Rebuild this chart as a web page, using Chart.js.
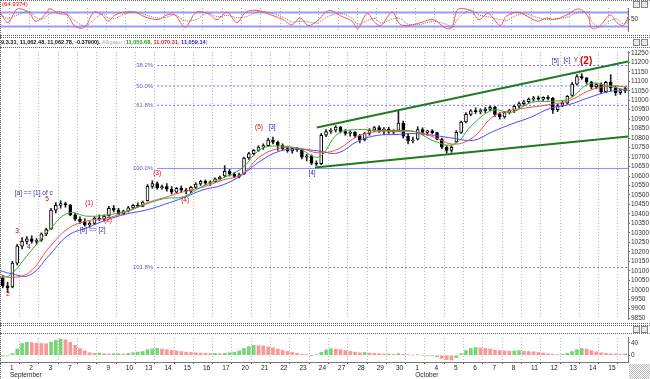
<!DOCTYPE html>
<html><head><meta charset="utf-8">
<script src="https://cdn.jsdelivr.net/npm/chart.js@4.4.1/dist/chart.umd.min.js"></script>
<style>
html,body{margin:0;padding:0;background:#fff;}
body{position:relative;width:650px;height:379px;overflow:hidden;font-family:'Liberation Sans',Arial,sans-serif;}
canvas{position:absolute;left:0;}
.hl{position:absolute;left:0;width:650px;height:0;border-top:1px dotted #666;}
.vl{position:absolute;width:0;border-left:1px dotted #666;}
.t{position:absolute;white-space:nowrap;font-size:5.6px;line-height:7px;}
.ic{position:absolute;width:5px;height:5px;border:1px solid #888;background:#e8e8e8;}
</style></head><body>
<canvas id="cStoch" style="top:0px;width:650px;height:36px" width="650" height="36"></canvas>
<canvas id="cMain" style="top:47px;width:650px;height:277px" width="650" height="277"></canvas>
<canvas id="cHist" style="top:333px;width:650px;height:46px" width="650" height="46"></canvas>
<div class="hl" style="top:0"></div>
<div class="hl" style="top:35px"></div>
<div class="hl" style="top:37px"></div>
<div class="hl" style="top:47px"></div>
<div class="hl" style="top:323px"></div>
<div class="hl" style="top:325px"></div>
<div class="hl" style="top:333px"></div>
<div class="vl" style="left:0;top:0;height:379px"></div>
<div class="t" style="left:2px;top:1px;color:#e00000;font-size:6px">(64.9374)</div>
<div class="t" style="left:1px;top:39px;color:#111;font-weight:bold">9.3.31, 11,062.48, 11,062.78, -0.37900). <span style="color:#aaa;font-weight:normal">Alligator (</span><span style="color:#20a020">11,050.68, </span><span style="color:#e02020">11,070.31, </span><span style="color:#2020e0">11,059.14</span><span style="color:#aaa">)</span></div>
<div class="ic" style="left:633px;top:1px"></div><div class="ic" style="left:641px;top:1px"></div>
<div class="ic" style="left:633px;top:39px"></div><div class="ic" style="left:641px;top:39px"></div>
<div class="ic" style="left:633px;top:326px"></div><div class="ic" style="left:641px;top:326px"></div>
<div style="position:absolute;left:629px;top:364px;width:21px;height:15px;background:repeating-conic-gradient(#bbb 0 25%,#fff 0 50%) 0 0/2px 2px"></div>
<script>
const FONT = "'Liberation Sans', Arial, sans-serif";
Chart.defaults.font.family = FONT;
Chart.defaults.font.size = 6.5;

// ---------- categories / ticks ----------
const dayLabels = ['1','2','3','7','8','9','10','13','14','15','16','17','20','21','22','23','24','27','28','29','30','1','4','5','6','7','8','11','12','13','14','15'];
const monthNames = ['September','October'];
const monthStartDays = [0, 21];
const barsPerDay = 4;
const firstBar = -2;
const X_MIN = -2.07, X_MAX = 128.08;
const priceTicks = [11250,11200,11150,11100,11050,11000,10950,10900,10850,10800,10750,10700,10650,10600,10550,10500,10450,10400,10350,10300,10250,10200,10150,10100,10050,10000,9950,9900,9850];

// ---------- price bars (4 per day) ----------
const opens = [10060,10020,
10015,10140,10230,10255, 10268,10255,10262,10295, 10320,10420,10445,10455, 10447,10395,10372,10360,
10342,10350,10378,10372, 10390,10430,10420,10402, 10415,10432,10445,10440, 10470,10545,10560,10538,
10544,10530,10515,10535, 10526,10520,10540,10558, 10572,10562,10570,10585, 10600,10625,10610,10598,
10610,10695,10718,10735, 10753,10760,10790,10778, 10761,10745,10732,10745, 10739,10700,10706,10668,
10665,10815,10835,10842, 10858,10835,10825,10830, 10812,10790,10825,10842, 10855,10840,10848,10832,
10840,10880,10810,10785, 10795,10845,10830,10838, 10829,10795,10752,10735, 10780,10830,10885,10925,
10944,10940,10945,10952, 10962,10925,10912,10935, 10948,10968,10982,10992, 11006,11012,11005,11015,
11010,10950,10972,10985, 11025,11085,11125,11118, 11096,11070,11082,11045, 11094,11065,11040,11050];
const highs = [10075,10040,
10150,10240,10275,10280, 10285,10270,10300,10325, 10430,10460,10470,10462, 10450,10405,10385,10375,
10360,10385,10395,10395, 10440,10445,10430,10420, 10440,10450,10458,10468, 10555,10575,10570,10552,
10560,10545,10540,10548, 10535,10545,10565,10578, 10580,10575,10590,10600, 10655,10635,10620,10615,
10700,10725,10740,10760, 10770,10800,10805,10785, 10770,10758,10750,10752, 10742,10715,10712,10680,
10825,10845,10850,10865, 10862,10845,10840,10835, 10820,10830,10850,10862, 10865,10855,10858,10845,
10948,10890,10825,10805, 10860,10855,10842,10845, 10832,10800,10760,10760, 10840,10890,10935,10950,
10960,10955,10962,10970, 10968,10935,10940,10952, 10975,10990,11000,11012, 11020,11022,11018,11025,
11015,10980,10995,11025, 11095,11135,11140,11120, 11100,11090,11092,11100, 11135,11075,11060,11070];
const lows = [10010,9985,
10010,10130,10215,10240, 10245,10240,10255,10285, 10318,10405,10430,10435, 10390,10365,10350,10335,
10330,10345,10365,10365, 10388,10410,10395,10395, 10410,10425,10435,10438, 10468,10535,10530,10530,
10520,10505,10510,10515, 10505,10512,10535,10550, 10555,10550,10565,10578, 10595,10600,10590,10590,
10608,10688,10710,10730, 10740,10755,10770,10735, 10738,10725,10720,10730, 10690,10680,10660,10655,
10660,10808,10825,10832, 10828,10815,10810,10805, 10775,10785,10815,10835, 10830,10820,10825,10822,
10835,10800,10770,10775, 10790,10820,10815,10822, 10790,10745,10720,10725, 10775,10825,10880,10918,
10930,10928,10935,10945, 10915,10900,10905,10928, 10935,10960,10972,10985, 10995,11000,10998,11002,
10930,10940,10965,10980, 11020,11080,11110,11085, 11060,11060,11035,11040, 11050,11025,11030,11040];
const closes = [10020,10010,
10140,10230,10255,10268, 10255,10262,10295,10318, 10420,10445,10455,10447, 10395,10372,10360,10342,
10350,10378,10372,10388, 10430,10420,10402,10415, 10432,10445,10440,10462, 10545,10560,10538,10544,
10530,10515,10535,10526, 10520,10540,10558,10572, 10562,10570,10585,10594, 10625,10610,10598,10607,
10695,10718,10735,10753, 10760,10790,10778,10761, 10745,10732,10745,10739, 10700,10706,10668,10662,
10815,10835,10842,10858, 10835,10825,10830,10812, 10790,10825,10842,10855, 10840,10848,10832,10835,
10880,10810,10785,10788, 10845,10830,10838,10829, 10795,10752,10735,10751, 10830,10885,10925,10944,
10940,10945,10952,10962, 10925,10912,10935,10948, 10968,10982,10992,11006, 11012,11005,11015,11010,
10950,10972,10985,11020, 11085,11125,11118,11096, 11070,11082,11045,11094, 11065,11040,11050,11062];

// ---------- Alligator lines (sampled at day starts) ----------
const maX = [-2,0,4,8,12,16,20,24,28,32,36,40,44,48,52,56,60,64,68,72,76,80,84,88,92,96,100,104,108,112,116,120,124,128];
const jawBlue = [10101,10086,10076,10178,10286,10327,10368,10399,10419,10450,10486,10527,10552,10604,10681,10732,10742,10732,10722,10783,10814,10819,10824,10814,10799,10788,10834,10875,10911,10958,10978,11014,11045,11059];
const teethRed = [10081,10065,10091,10219,10322,10363,10378,10409,10455,10486,10517,10542,10578,10609,10706,10747,10747,10722,10742,10809,10834,10834,10834,10804,10768,10804,10911,10947,10963,10978,10999,11050,11075,11070];
const lipsGreen = [10065,10076,10194,10311,10404,10388,10394,10414,10450,10481,10491,10547,10588,10640,10742,10758,10742,10701,10824,10845,10840,10840,10834,10783,10768,10875,10947,10937,10988,10994,11009,11086,11075,11051];

// ---------- fib levels & channel ----------
const fibNames = ['38.2%','50.0%','61.8%','100.0%','101.8%'];
const fibValues = [11183,11075,10973,10640,10117];
const fibStartX = 30.5;
const channelUpperX = [63.6,128.08], channelUpperY = [10856,11204];
const channelLowerX = [63.2,128.08], channelLowerY = [10645,10809];

// ---------- wave labels ----------
const waveText  = ['2','3','4','5','[a] == [1] of c','(1)','[b] == [2]','(2)','(3)','(4)','(5)','[3]','[4]','[5]','[c]','Y','(2)'];
const waveX     = [-0.4,1.45,3.9,7.7,1.0,16.4,14.5,20.3,30.5,36.3,51.6,54.3,62.6,113,115.4,117.3,119.4];
const waveY     = [9978,10311,10224,10476,10511,10455,10316,10368,10614,10470,10855,10855,10614,11204,11209,11209,11204];
const waveColor = ['#e00000','#a00000','#a00000','#e00000','#3030a0','#e00000','#3030a0','#e00000','#e00000','#e00000','#e00000','#3030a0','#3030a0','#3030a0','#3030a0','#3030a0','#e00000'];

// ---------- histogram ----------
const histValues = [-3,-2,
5,20,38,42, 41,39,38,37, 42,48,52,50, 42,32,22,14, 8,6,7,5, 4,5,5,4, 6,8,10,12, 18,21,22,20,
18,16,14,12, 10,9,8,7, 6,5,6,5, 6,8,10,14, 22,28,32,31, 30,27,24,20, 16,12,9,6, 3,1,-1,2,
10,17,21,20, 18,15,12,10, 8,9,7,6, 5,4,4,3, 5,3,1,0, 1,0,-2,-1, -5,-10,-14,-16, -8,5,15,22,
25,24,22,20, 17,15,14,13, 14,15,13,12, 11,9,7,5, 3,2,3,6, 12,18,22,20, 15,11,8,6, 5,4,3,4];

// ---------- stochastic ----------
const stochX = [-2.1,-0.4,1.5,3.9,5.2,6.6,8.3,10,11.8,13.5,15.5,17.4,19.1,20.3,21.8,23.8,25.9,27.8,30.7,32.5,34.2,36.3,38.6,41,42.9,45,47,48.9,51.4,54.1,56.6,58.4,60.1,61.8,63.6,66.1,68.8,70.9,72.1,74,75.6,76.9,79.2,80.8,82.5,85.2,87.7,90.4,91.6,92.9,95.5,97.2,99.1,101.6,102.8,105.1,106.7,109.4,111.1,112.8,115.4,117.9,119.8,120.6,122.3,124.4,125.8,127.1,128.3];
const stochK = [82,37,96,82,43,57,96,76,70,20,17,82,70,43,70,82,82,63,50,70,70,17,82,76,50,82,37,82,89,70,50,27,57,24,43,89,63,43,11,76,37,24,82,30,24,37,50,11,17,96,89,50,76,24,63,82,70,43,57,50,70,96,63,11,24,70,37,24,70];
const stochD = [75,55,70,85,62,52,75,85,74,45,22,50,75,58,55,75,82,72,56,60,70,45,50,78,62,68,58,62,84,78,60,40,42,40,35,65,75,55,30,45,55,35,52,55,30,30,42,30,15,55,92,70,62,50,45,70,75,58,50,53,60,82,80,40,18,45,52,32,45];
const stochLevels = [80,20];
const stochTicks = [50];
const histTicks = [0,40];

// ---------- helpers ----------
const dayStarts = dayLabels.map((_, k) => k * barsPerDay).concat([dayLabels.length * barsPerDay]);
function xScale(withLabels) {
  const s = {
    type: 'linear', min: X_MIN, max: X_MAX, offset: false,
    afterBuildTicks: sc => { sc.ticks = dayStarts.map(v => ({value: v})); },
    grid: { color: '#b4b4b4', lineWidth: 1, drawTicks: false },
    border: { display: false, dash: [1, 2] },
    ticks: { display: false }
  };
  if (withLabels) {
    s.grid = { color: '#b4b4b4', lineWidth: 1, drawTicks: true, tickLength: 2, tickColor: '#555' };
    s.border = { display: true, color: '#777', dash: [1, 2] };
    s.ticks = {
      display: true, autoSkip: false, maxRotation: 0, minRotation: 0, align: 'start', padding: 0,
      color: '#222', font: { size: 6.5, lineHeight: 1.15 },
      callback: v => {
        const k = Math.round(v / barsPerDay);
        if (k >= dayLabels.length) return '';
        const m = monthStartDays.indexOf(k);
        return m >= 0 ? [dayLabels[k], monthNames[m]] : dayLabels[k];
      }
    };
  }
  return s;
}
function yRight(min, max, tickVals) {
  return {
    type: 'linear', position: 'right', min, max,
    afterBuildTicks: sc => { sc.ticks = tickVals.map(v => ({value: v})); },
    afterFit: sc => { sc.width = 22; },
    grid: { drawOnChartArea: false, drawTicks: true, tickLength: 2, color: '#666' },
    border: { display: true, color: '#777' },
    ticks: { autoSkip: false, color: '#333', padding: 1, font: { size: 6.5 }, callback: v => String(v) }
  };
}
const baseOpts = {
  responsive: false, maintainAspectRatio: false, animation: false, devicePixelRatio: 1, events: [],
  plugins: { legend: { display: false }, tooltip: { enabled: false } }
};

// ---------- stochastic chart ----------
new Chart(document.getElementById('cStoch'), {
  type: 'line',
  data: { datasets: [
    ...stochLevels.map(l => ({ data: [{x: X_MIN, y: l}, {x: X_MAX, y: l}], borderColor: 'rgba(120,120,255,0.75)', borderWidth: 2, pointRadius: 0, order: 5 })),
    { data: stochX.map((x, i) => ({x, y: stochD[i]})), borderColor: '#777', borderWidth: 1, borderDash: [1, 1], pointRadius: 0, tension: 0.35, order: 2 },
    { data: stochX.map((x, i) => ({x, y: stochK[i]})), borderColor: '#ff5050', borderWidth: 1, pointRadius: 0, tension: 0.35, order: 1 }
  ]},
  options: { ...baseOpts, layout: { padding: { top: 8, bottom: 1, left: 0, right: 0 } },
    scales: { x: xScale(false), y: yRight(0, 100, stochTicks) } }
});

// ---------- main price chart ----------
const barX = opens.map((_, i) => firstBar + i + 0.5);
const bodyColors = opens.map((o, i) => closes[i] >= o ? '#ffffff' : '#000000');
const annPlugin = {
  id: 'ann',
  afterDatasetsDraw(chart) {
    const { ctx, scales: { x, y } } = chart;
    ctx.save();
    ctx.textBaseline = 'middle';
    fibNames.forEach((t, i) => {
      ctx.font = '6px ' + FONT; ctx.fillStyle = '#6060d0'; ctx.textAlign = 'right';
      ctx.fillText(t, x.getPixelForValue(fibStartX) - 4, y.getPixelForValue(fibValues[i]));
    });
    waveText.forEach((t, i) => {
      const big = i === waveText.length - 1;
      ctx.font = (big ? 'bold 10px ' : '6.5px ') + FONT;
      ctx.fillStyle = waveColor[i];
      ctx.textAlign = t.length > 4 ? 'left' : 'center';
      ctx.fillText(t, x.getPixelForValue(waveX[i]), y.getPixelForValue(waveY[i]));
    });
    ctx.restore();
  }
};
new Chart(document.getElementById('cMain'), {
  type: 'bar',
  data: { datasets: [
    ...fibValues.map((v, i) => ({ type: 'line', data: [{x: fibStartX, y: v}, {x: X_MAX, y: v}],
      borderColor: i === 3 ? '#8a8aff' : '#7070ff', borderWidth: 1, borderDash: i === 3 ? [] : [2, 2], pointRadius: 0, order: 10 })),
    { type: 'bar', data: barX.map((x, i) => ({x, y: [lows[i], highs[i]]})), backgroundColor: '#222', barThickness: 1, grouped: false, order: 8 },
    { type: 'bar', data: barX.map((x, i) => ({x, y: [opens[i], closes[i]]})), backgroundColor: bodyColors, borderColor: '#000', borderWidth: 1, borderSkipped: false, barThickness: 3, minBarLength: 1, grouped: false, order: 7 },
    { type: 'line', data: maX.map((x, i) => ({x, y: jawBlue[i]})), borderColor: '#4a4aff', borderWidth: 1, pointRadius: 0, tension: 0.4, order: 5 },
    { type: 'line', data: maX.map((x, i) => ({x, y: teethRed[i]})), borderColor: '#ff4a4a', borderWidth: 1, pointRadius: 0, tension: 0.4, order: 4 },
    { type: 'line', data: maX.map((x, i) => ({x, y: lipsGreen[i]})), borderColor: '#30b030', borderWidth: 1, pointRadius: 0, tension: 0.4, order: 3 },
    { type: 'line', data: channelUpperX.map((x, i) => ({x, y: channelUpperY[i]})), borderColor: '#207a20', borderWidth: 2, pointRadius: 0, order: 1 },
    { type: 'line', data: channelLowerX.map((x, i) => ({x, y: channelLowerY[i]})), borderColor: '#207a20', borderWidth: 2, pointRadius: 0, order: 1 }
  ]},
  options: { ...baseOpts, layout: { padding: { top: 1, bottom: 1, left: 0, right: 0 } },
    scales: { x: xScale(false), y: yRight(9845, 11255, priceTicks) } },
  plugins: [annPlugin]
});

// ---------- histogram chart ----------
const histX = histValues.map((_, i) => firstBar + i + 0.5);
const histColors = histValues.map((v, i) => (i === 0 || v >= histValues[i - 1]) ? 'rgba(70,200,70,0.75)' : 'rgba(255,115,115,0.75)');
new Chart(document.getElementById('cHist'), {
  type: 'bar',
  data: { datasets: [
    { data: histX.map((x, i) => ({x, y: histValues[i]})), backgroundColor: histColors, barThickness: 3, grouped: false }
  ]},
  options: { ...baseOpts, layout: { padding: { top: 2, bottom: 0, left: 0, right: 0 } },
    scales: { x: xScale(true), y: yRight(-22, 56, histTicks) } }
});
</script>
</body></html>
